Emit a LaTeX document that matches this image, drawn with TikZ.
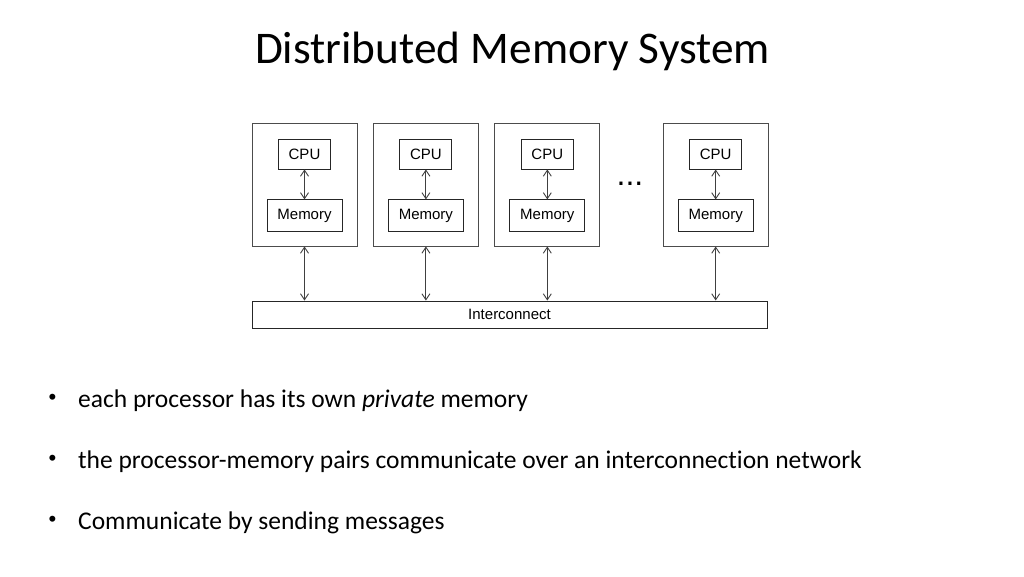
\documentclass[tikz,border=0pt]{standalone}
\usepackage{fontspec}
\setmainfont{Carlito}[Ligatures=NoCommon]
\newfontfamily\diagfont{Liberation Sans}
\usetikzlibrary{arrows.meta,positioning}

\begin{document}
\begin{tikzpicture}[x=1pt,y=1pt,>={Straight Barb[length=6pt,width=8pt]}]
	\tikzstyle{pe}=[draw=black!70, line width=0.9pt, rectangle, minimum width=105pt, minimum height=123pt, inner sep=0pt]
	\tikzstyle{cpu}=[draw=black!85, line width=0.9pt, rectangle, minimum width=52pt, minimum height=30pt, inner sep=0pt, font=\diagfont\fontsize{15}{18}\selectfont]
	\tikzstyle{mem}=[draw=black!85, line width=0.9pt, rectangle, minimum width=75pt, minimum height=32pt, inner sep=0pt, font=\diagfont\fontsize{15}{18}\selectfont]
	\tikzstyle{link}=[<->, draw=black!75, line width=0.9pt]
	\tikzstyle{mark_b}=[anchor=base, inner sep=0pt, font=\diagfont\fontsize{22}{25}\selectfont]
	\tikzstyle{item}=[anchor=base west, inner sep=0pt, font=\fontsize{25.5}{30}\selectfont]

	\useasboundingbox (0,0) rectangle (1024,576);

	\node[font=\fontsize{45.3}{54}\selectfont, anchor=base] (title) at (512.5,512) {Distributed Memory System};

	\node[pe] (pe1) at (304.5,391.5) {};
	\node[pe] (pe2) [right=15.5pt of pe1] {};
	\node[pe] (pe3) [right=15.5pt of pe2] {};
	\node[pe] (pe4) [right=62.5pt of pe3] {};

	\node[cpu] (cpu1) [below=16pt of pe1.north] {CPU};
	\node[mem] (mem1) [below=30pt of cpu1] {Memory};
	\node[cpu] (cpu2) [below=16pt of pe2.north] {CPU};
	\node[mem] (mem2) [below=30pt of cpu2] {Memory};
	\node[cpu] (cpu3) [below=16pt of pe3.north] {CPU};
	\node[mem] (mem3) [below=30pt of cpu3] {Memory};
	\node[cpu] (cpu4) [below=16pt of pe4.north] {CPU};
	\node[mem] (mem4) [below=30pt of cpu4] {Memory};

	\node[anchor=base, inner sep=0pt, font=\diagfont\fontsize{32}{32}\selectfont] (dots) at (630,390) {...};

	\node[draw=black!85, line width=0.9pt, rectangle, minimum width=515pt, minimum height=27pt, inner sep=0pt, font=\diagfont\fontsize{15}{18}\selectfont] (net) at (509.5,261.5) {Interconnect};

	\draw[link] (cpu1) -- (mem1);
	\draw[link] (cpu2) -- (mem2);
	\draw[link] (cpu3) -- (mem3);
	\draw[link] (cpu4) -- (mem4);

	\draw[link] (pe1.south) -- (pe1.south |- net.north);
	\draw[link] (pe2.south) -- (pe2.south |- net.north);
	\draw[link] (pe3.south) -- (pe3.south |- net.north);
	\draw[link] (pe4.south) -- (pe4.south |- net.north);

	% bullet list
	\node[mark_b] (b1) at (52.5,172) {•};
	\node[item] (t1) at (78,169) {each processor has its own \textit{private} memory};
	\node[mark_b] (b2) at (52.5,111) {•};
	\node[item] (t2) at (78,108) {the processor-memory pairs communicate over an interconnection network};
	\node[mark_b] (b3) at (52.5,50) {•};
	\node[item] (t3) at (78,47) {Communicate by sending messages};
\end{tikzpicture}
\end{document}
